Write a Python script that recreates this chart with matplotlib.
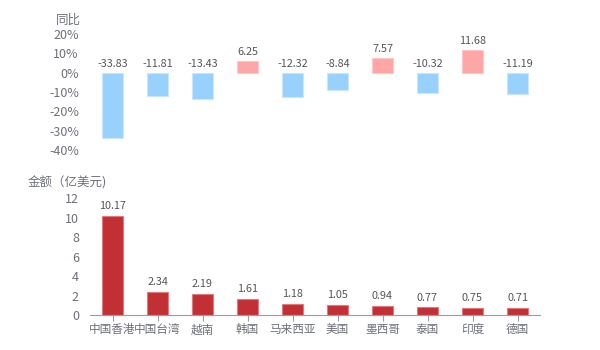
import numpy as np
import matplotlib
matplotlib.use('Agg')
import matplotlib.pyplot as plt
from matplotlib.ticker import FuncFormatter

plt.rcParams['font.family'] = ['Noto Sans CJK SC', 'DejaVu Sans']

regions = ['中国香港', '中国台湾', '越南', '韩国', '马来西亚', '美国', '墨西哥', '泰国', '印度', '德国']
yoy = [-33.83, -11.81, -13.43, 6.25, -12.32, -8.84, 7.57, -10.32, 11.68, -11.19]
amount = [10.17, 2.34, 2.19, 1.61, 1.18, 1.05, 0.94, 0.77, 0.75, 0.71]

tick_color = '#6e7079'
label_color = '#555555'
x = np.arange(len(regions))

fig = plt.figure(figsize=(6, 3.5), dpi=100)

# year-on-year change
ax1 = fig.add_axes([0.15, 0.571, 0.75, 0.332])
colors = ['#99d1fd' if v < 0 else '#ffa6a6' for v in yoy]
edges = ['#c8e6ff' if v < 0 else '#ffc8c8' for v in yoy]
ax1.bar(x, yoy, width=0.45, color=colors, edgecolor=edges, linewidth=0.8)
for xi, v in zip(x, yoy):
    top = max(v, 0)
    ax1.text(xi, top + 2, f'{v:.2f}', ha='center', va='bottom', fontsize=7.8, color=label_color)
ax1.set_xlim(-0.5, len(regions) - 0.5)
ax1.set_ylim(-40, 20)
ax1.set_yticks(range(-40, 21, 10))
ax1.yaxis.set_major_formatter(FuncFormatter(lambda v, p: f'{int(v)}%'))
ax1.set_xticks([])
for s in ax1.spines.values():
    s.set_visible(False)
ax1.tick_params(axis='y', length=0, labelsize=9, colors=tick_color, pad=8)
ax1.text(-0.02, 1.06, '同比', transform=ax1.transAxes, ha='right', va='bottom',
         fontsize=9, color=tick_color)

# export amount
ax2 = fig.add_axes([0.15, 0.1, 0.75, 0.334])
ax2.bar(x, amount, width=0.45, color='#c23036', edgecolor='#e07a7e', linewidth=0.8)
for xi, v in zip(x, amount):
    ax2.text(xi, v + 0.5, f'{v:.2f}', ha='center', va='bottom', fontsize=7.8, color=label_color)
ax2.set_xlim(-0.5, len(regions) - 0.5)
ax2.set_ylim(0, 12)
ax2.set_yticks(range(0, 13, 2))
ax2.set_xticks(x)
ax2.set_xticklabels(regions)
for s in ['top', 'right', 'left']:
    ax2.spines[s].set_visible(False)
ax2.spines['bottom'].set_color('#9a9ca6')
ax2.tick_params(axis='y', length=0, labelsize=9, colors=tick_color, pad=8)
ax2.tick_params(axis='x', length=4, color='#9a9ca6', labelsize=8.4, colors=tick_color, pad=2)
fig.text(28 / 600, 1 - 183 / 350, '金额（亿美元)', ha='left', va='center',
         fontsize=9, color=tick_color)

fig.savefig('out.png', dpi=100)
